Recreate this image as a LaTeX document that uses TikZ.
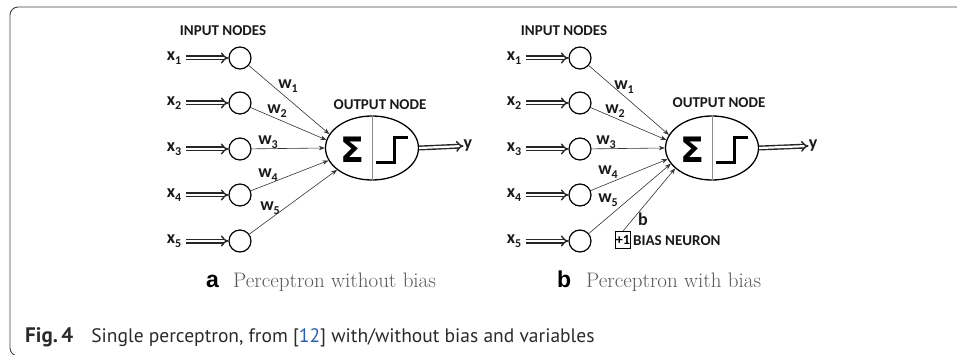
\documentclass[tikz,border=0pt]{standalone}
\usepackage{fontspec}
\newfontfamily\calfont{Carlito}
\newfontfamily\capfont{PT Sans}
\newfontfamily\panfont{Liberation Sans}
\newfontfamily\sigfont{DejaVu Sans}
\usetikzlibrary{arrows.meta,shapes.geometric}
\definecolor{capgray}{HTML}{2A2A2A}
\definecolor{refblue}{HTML}{2A5DB0}
\newcommand\sublab[2]{{\fontsize{18}{18}\selectfont #1}\raisebox{-0.5ex}{\fontsize{12}{12}\selectfont #2}}
\tikzset{
  inp/.style={circle, draw, line width=1.2pt, minimum size=22pt, inner sep=0pt},
  outn/.style={ellipse, draw, line width=1.3pt, minimum width=93pt, minimum height=64pt, inner sep=0pt},
  dbl/.style={draw=black!85, double, double distance=2.2pt, line width=1.4pt, -{Implies[scale=1.1]}, shorten <=5pt},
  wedge/.style={draw=black!80, line width=0.6pt, -{Stealth[length=6pt,width=4.5pt]}},
  lbl/.style={font=\calfont\bfseries\fontsize{15}{15}\selectfont, inner sep=0pt, text=black!90},
  sig/.style={font=\sigfont\bfseries\fontsize{35}{35}\selectfont, inner sep=0pt},
  stepline/.style={line width=3pt, line cap=butt, line join=miter},
  divider/.style={draw=black!45, line width=0.8pt},
  frame/.style={draw=black!75, line width=0.9pt, rounded corners=8pt},
  sublbl/.style={font=\fontsize{21}{21}\selectfont, text=black!65, inner sep=0pt, anchor=base west},
  panlbl/.style={font=\panfont\bfseries\fontsize{23}{23}\selectfont, inner sep=0pt, anchor=base west},
  biasbox/.style={draw, line width=0.9pt, minimum width=15pt, minimum height=17pt, inner sep=0pt, font=\calfont\bfseries\fontsize{14}{14}\selectfont}
}
\begin{document}
\begin{tikzpicture}[x=1pt,y=-1pt]
\useasboundingbox (0,0) rectangle (957,355);
\path[frame] (960,7) -- (10,7) -- (10,356) -- (30,356);

% ---------------- panel a ----------------
\node[lbl] (ina) at (223,31) {INPUT NODES};
\foreach \i/\y in {1/58,2/103,3/149,4/195,5/241}{
  \node[inp] (ca\i) at (240,\y) {};
  \node[lbl] (xa\i) at (174,\y) {\sublab{x}{\i}};
  \draw[dbl] (xa\i.east) -- (ca\i.west);
}
\node[outn] (oa) at (372,148) {};
\draw[divider] (oa.north) -- (oa.south);
\node[sig] (sa) at (352,150) {Σ};
\draw[stepline] (376,163) -- (394,163) -- (394,138) -- (408,138);
\node[lbl] (ona) at (380,105) {OUTPUT NODE};
\node[lbl] (ya) at (468,146) {\fontsize{18}{18}\selectfont y};
\draw[dbl, shorten <=0pt] (oa.east) -- (ya.west);
\draw[wedge] (ca1) -- (oa.162);
\draw[wedge] (ca2) -- (oa.170);
\draw[wedge] (ca3) -- (oa.180);
\draw[wedge] (ca4) -- (oa.196);
\draw[wedge] (ca5) -- (oa.212);
\node[lbl] (wa1) at (288,86) {\sublab{w}{1}};
\node[lbl] (wa2) at (277,111) {\sublab{w}{2}};
\node[lbl] (wa3) at (268,142) {\sublab{w}{3}};
\node[lbl] (wa4) at (268,175) {\sublab{w}{4}};
\node[lbl] (wa5) at (270,208) {\sublab{w}{5}};

% ---------------- panel b ----------------
\node[lbl] (inb) at (564,31) {INPUT NODES};
\foreach \i/\y in {1/58,2/103,3/149,4/195,5/241}{
  \node[inp] (cb\i) at (580,\y) {};
  \node[lbl] (xb\i) at (514,\y) {\sublab{x}{\i}};
  \draw[dbl] (xb\i.east) -- (cb\i.west);
}
\node[outn] (ob) at (712,148) {};
\draw[divider] (ob.north) -- (ob.south);
\node[sig] (sb) at (692,150) {Σ};
\draw[stepline] (716,163) -- (734,163) -- (734,138) -- (748,138);
\node[lbl] (onb) at (719,103) {OUTPUT NODE};
\node[lbl] (yb) at (813,146) {\fontsize{18}{18}\selectfont y};
\draw[dbl, shorten <=0pt] (ob.east) -- (yb.west);
\draw[wedge] (cb1) -- (ob.163);
\draw[wedge] (cb2) -- (ob.170);
\draw[wedge] (cb3) -- (ob.180);
\draw[wedge] (cb4) -- (ob.194);
\draw[wedge] (cb5) -- (ob.201);
\node[biasbox] (bias) at (623,240) {+1};
\node[lbl, anchor=west] (bn) at (633,241) {BIAS NEURON};
\draw[wedge] (bias.north) -- (ob.209);
\node[lbl] (bl) at (643,219) {\fontsize{18}{18}\selectfont b};
\node[lbl] (wb1) at (624,87) {\sublab{w}{1}};
\node[lbl] (wb2) at (615,111) {\sublab{w}{2}};
\node[lbl] (wb3) at (606,142) {\sublab{w}{3}};
\node[lbl] (wb4) at (608,172) {\sublab{w}{4}};
\node[lbl] (wb5) at (608,200) {\sublab{w}{5}};

% ---------------- sub-captions ----------------
\node[panlbl] (pa) at (206,287) {a};
\node[sublbl] (ta) at (233,287) {Perceptron without bias};
\node[panlbl] (pb) at (557,287) {b};
\node[sublbl] (tb) at (586,287) {Perceptron with bias};

% ---------------- figure caption ----------------
\node[inner sep=0pt, anchor=base west, font=\capfont\fontsize{19.5}{19.5}\selectfont, text=capgray] (cap) at (25,342)
  {\textbf{\fontsize{21}{21}\selectfont Fig.\,4}\hspace{18pt}Single perceptron, from [\textcolor{refblue}{12}] with/without bias and variables};
\end{tikzpicture}
\end{document}
